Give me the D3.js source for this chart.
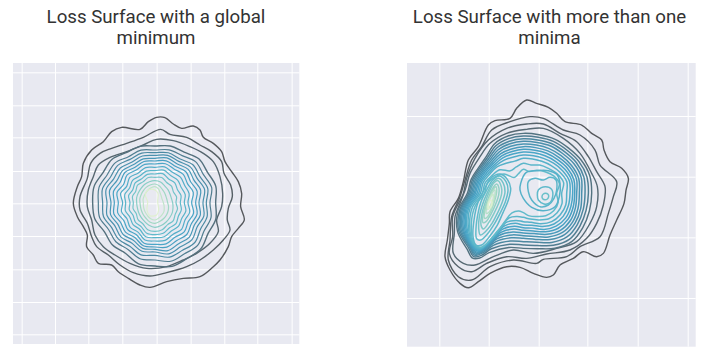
<!DOCTYPE html>
<html>
<head>
<meta charset="utf-8">
<script src="https://cdn.jsdelivr.net/npm/d3@7"></script>
<style>
  html, body { margin: 0; padding: 0; background: #fff; }
  svg { display: block; }
  .panel { filter: blur(0.4px); }
  text { font-family: Roboto, sans-serif; font-size: 18.7px; fill: #333; text-anchor: middle; }
</style>
</head>
<body>
<svg width="706" height="360"></svg>
<script>
const titleLeft = ["Loss Surface with a global", "minimum"];
const titleRight = ["Loss Surface with more than one", "minima"];

const ticksLeftX = [65, 165, 265, 367, 470, 572, 673, 772, 875];
const ticksLeftY = [67, 166, 262, 363, 460, 558, 658, 756, 853];
const ticksRightX = [118, 266, 416, 562, 713, 863];
const ticksRightY = [198, 380, 562, 744];

// left surface: outer contours as x,y
const leftOuter = [
  [[470,202],[495,203],[520,222],[545,235],[580,228],[600,240],[610,262],[640,280],[665,305],[675,335],[695,365],[715,395],[725,430],[722,470],[733,510],[715,535],[695,560],[685,590],[660,630],[640,650],[600,680],[550,685],[500,695],[450,712],[420,705],[385,685],[355,665],[335,645],[295,640],[280,615],[260,590],[262,555],[250,530],[232,500],[220,460],[232,410],[245,380],[250,340],[275,300],[310,275],[335,245],[365,232],[420,238],[445,215]],
  [[482,238],[510,253],[560,262],[600,285],[635,305],[665,335],[672,370],[692,405],[697,440],[685,475],[682,510],[690,540],[670,570],[640,600],[600,630],[560,650],[500,668],[450,678],[400,668],[360,645],[325,615],[290,590],[275,560],[262,520],[240,480],[240,440],[262,385],[272,340],[300,310],[335,295],[380,280],[430,262]],
  [[470,268],[520,272],[570,290],[610,310],[640,335],[660,380],[668,430],[665,470],[650,510],[655,545],[630,580],[590,610],[550,630],[500,650],[440,655],[390,640],[345,615],[310,590],[285,555],[275,510],[262,470],[265,420],[280,380],[295,345],[330,322],[380,305],[430,285]]
];
// left surface: inner contours as radii on the spokes below
const leftCentre = [465, 458];
const leftSpokes = [0,15,30,45,60,75,90,105,120,135,150,165,180,195,210,225,240,255,270,285,300,315,330,345];
const leftRadii = [
  [170,176,175,186,182,189,182,189,184,195,193,198,190,190,176,180,175,187,187,189,180,183,173,175],
  [158,164,163,173,168,176,165,174,170,181,177,182,172,174,162,166,161,172,170,174,166,169,159,163],
  [150,155,151,161,156,164,154,162,158,169,165,169,158,162,151,155,150,160,157,163,154,158,150,154],
  [142,147,143,151,146,154,144,152,146,157,153,159,148,151,140,145,139,149,144,152,143,147,140,145],
  [133,139,134,141,135,142,132,141,136,146,142,149,140,142,130,135,129,138,132,141,132,137,131,136],
  [125,130,125,131,124,131,122,131,126,135,131,138,133,134,121,125,119,128,122,129,121,128,122,128],
  [116,121,116,120,113,119,110,120,115,124,120,128,125,126,111,115,108,116,110,118,109,118,113,119],
  [106,111,105,108,103,106,99,108,104,113,109,117,115,116,102,105,97,104,97,107,98,107,102,109],
  [96,101,94,96,91,94,88,96,93,100,98,106,105,106,92,93,87,92,88,94,88,95,92,98],
  [86,90,82,84,78,81,76,82,81,89,87,95,96,95,83,83,76,80,75,82,77,84,82,88],
  [76,78,70,70,64,67,63,70,70,77,76,84,86,84,73,72,65,68,65,70,67,74,72,78],
  [66,64,58,55,52,51,53,56,60,63,67,71,74,70,64,60,57,55,55,57,58,60,63,65],
  [56,52,45,41,38,37,38,42,46,50,54,58,62,60,54,50,47,45,45,47,48,50,53,55],
  [48,42,32,27,24,24,25,28,32,38,42,47,52,50,45,41,38,36,35,37,38,40,43,46]
];
const leftInner = [
  [[445,420],[465,420],[474,430],[473,455],[476,480],[470,495],[450,497],[441,480],[443,455],[436,435]]
];

// right surface
const rightOuter = [
  [[380,150],[410,160],[445,172],[470,190],[495,215],[545,225],[575,250],[605,270],[612,300],[630,335],[665,355],[685,385],[678,420],[672,460],[650,510],[630,555],[610,610],[590,620],[550,605],[520,625],[480,645],[460,675],[440,682],[400,670],[360,652],[320,650],[270,670],[235,695],[205,713],[180,700],[150,660],[135,620],[142,570],[148,520],[150,485],[175,445],[190,395],[205,330],[235,290],[265,225],[285,212],[330,205],[350,175]],
  [[430,205],[490,240],[540,255],[585,300],[600,345],[650,395],[640,440],[625,490],[600,560],[540,590],[500,620],[430,628],[410,640],[340,630],[270,650],[215,690],[175,680],[145,630],[150,570],[155,500],[180,440],[195,390],[215,330],[245,290],[275,240],[330,215],[390,200]],
  [[430,222],[480,250],[530,275],[565,320],[590,365],[615,410],[610,465],[590,520],[560,565],[510,600],[440,612],[380,625],[320,620],[260,640],[215,665],[175,650],[148,610],[158,560],[158,500],[190,430],[200,385],[225,325],[265,270],[320,235],[380,222]],
  [[430,235],[490,265],[540,310],[575,370],[592,410],[590,470],[570,520],[530,575],[470,595],[400,610],[340,600],[280,620],[225,645],[190,640],[160,610],[163,550],[165,500],[180,460],[197,415],[210,370],[240,320],[270,280],[320,250],[380,238]]
];
const rightCentre = [370, 430];
const rightSpokes = [0,15,30,45,60,75,90,105,120,135,150,165,180,195,210,214,218,225,240,255,270,285,300,315,330,345];
const rightRadii = [
  [180,182,188,192,200,206,205,205,206,205,190,172,165,168,205,234,247,238,228,203,168,162,155,157,172,178],
  [172,174,180,184,192,197,195,195,196,195,180,162,155,158,192,224,241,232,224,198,164,158,151,152,165,170],
  [164,166,172,176,184,188,185,186,187,185,170,152,145,148,180,214,236,228,220,194,160,154,147,147,158,162],
  [156,158,164,168,176,180,175,178,179,175,160,143,135,138,168,205,232,226,216,190,156,150,143,142,151,154],
  [148,150,155,160,167,172,168,170,171,166,151,134,127,129,157,195,228,224,212,186,152,146,139,137,144,146],
  [140,142,147,152,160,165,160,162,163,157,142,125,119,120,146,186,224,222,208,182,148,142,135,132,137,138],
  [132,134,139,144,152,157,154,155,155,148,133,117,111,111,135,176,220,220,204,178,144,138,131,127,130,130],
  [124,126,130,136,144,150,148,148,147,139,125,108,103,102,124,166,217,218,200,174,139,134,126,122,123,122],
  [115,117,121,128,136,143,140,140,138,130,115,99,95,93,113,156,214,216,196,170,134,130,121,117,115,113],
  [105,107,111,118,127,135,130,132,128,120,105,90,85,84,100,146,211,214,191,165,129,125,116,112,104,100],
  [90,88,98,106,117,125,115,120,117,108,92,80,72,72,85,135,208,212,186,158,123,119,108,100,78,82],
  [72,68,80,92,105,112,100,108,105,95,80,70,58,55,68,125,205,210,180,150,117,112,98,82,55,60]
];
// the two peaks
const rightPeakB = [
  [[362,400],[378,368],[410,362],[445,362],[470,373],[480,400],[478,440],[465,470],[430,482],[395,472],[370,445],[360,420]],
  [[385,395],[405,385],[430,390],[450,382],[468,390],[470,420],[462,445],[445,465],[420,470],[395,450],[385,425]],
  [[415,420],[436,410],[455,418],[458,440],[450,458],[432,462],[415,450],[412,435]],
  [[436,430],[444,433],[446,440],[442,447],[435,449],[428,446],[426,439],[430,432]]
];
const rightPeakA = [
  [[300,372],[322,388],[332,415],[325,450],[308,490],[292,525],[268,560],[245,585],[228,585],[219,560],[222,510],[233,460],[252,420],[272,385]],
  [[298,378],[318,395],[324,420],[316,455],[300,490],[284,520],[262,552],[242,570],[230,566],[228,535],[234,490],[243,455],[260,420],[278,390]],
  [[296,385],[310,400],[315,425],[306,458],[292,490],[276,520],[256,545],[241,555],[236,535],[238,500],[247,465],[262,428],[280,395]],
  [[294,392],[304,410],[305,430],[296,460],[282,490],[266,518],[250,537],[243,525],[246,490],[260,445],[272,415],[282,398]],
  [[290,402],[297,415],[296,435],[288,460],[274,490],[258,515],[249,518],[251,485],[265,445],[275,420]],
  [[288,410],[290,425],[286,445],[278,470],[263,500],[254,505],[256,475],[270,440],[278,420]],
  [[284,420],[285,435],[280,455],[268,485],[259,490],[263,460],[273,435]],
  [[278,432],[280,445],[272,465],[264,478],[263,465],[270,445]],
  [[272,450],[276,458],[272,472],[265,476],[265,465],[268,455]]
];

const spokesToRing = (centre, spokes, radii) => radii.map((r, i) => {
  const a = spokes[i] * Math.PI / 180;
  return [centre[0] + r * Math.sin(a), centre[1] - r * Math.cos(a)];
});

const ringColor = d3.scaleLinear()
  .domain([0, 0.15, 0.3, 0.5, 0.72, 0.88, 1])
  .range(["#55585c", "#566a74", "#4c8ba5", "#47a3c6", "#62bccb", "#a0d8c4", "#dff0d0"]);

const drawPanel = (svg, area, ticksX, ticksY, rings) => {
  const scaleX = d3.scaleLinear().domain(area.domainX).range(area.rangeX);
  const scaleY = d3.scaleLinear().domain(area.domainY).range(area.rangeY);

  const g = svg.append("g").attr("class", "panel");

  g.append("rect")
    .attr("x", area.rangeX[0])
    .attr("y", area.rangeY[0])
    .attr("width", area.rangeX[1] - area.rangeX[0])
    .attr("height", area.rangeY[1] - area.rangeY[0])
    .style("fill", "#e8e9f1");

  const axisX = d3.axisBottom(scaleX).tickValues(ticksX).tickSize(area.rangeY[0] - area.rangeY[1]).tickFormat("");
  const axisY = d3.axisLeft(scaleY).tickValues(ticksY).tickSize(area.rangeX[0] - area.rangeX[1]).tickFormat("");

  const gridX = g.append("g").attr("transform", `translate(0, ${area.rangeY[1]})`).call(axisX);
  const gridY = g.append("g").attr("transform", `translate(${area.rangeX[0]}, 0)`).call(axisY);
  [gridX, gridY].forEach(grid => {
    grid.select(".domain").remove();
    grid.selectAll("line").style("stroke", "#fff").style("stroke-width", 1);
  });

  const line = d3.line()
    .x(d => scaleX(d[0]))
    .y(d => scaleY(d[1]))
    .curve(d3.curveCatmullRomClosed.alpha(0.5));

  g.selectAll(".ring")
    .data(rings)
    .enter()
    .append("path")
    .attr("d", d => line(d.points))
    .style("fill", "none")
    .style("stroke", d => ringColor(d.level))
    .style("stroke-width", d => d.level < 0.2 ? 1.4 : area.innerWidth);
};

const withLevels = (lists, maxLevel) => {
  let level = 0;
  const out = [];
  lists.forEach(list => list.forEach(points => {
    out.push({ points: points, level: level / maxLevel });
    level++;
  }));
  return out;
};

const svg = d3.select("svg");

const ringsLeft = withLevels([
  leftOuter,
  leftRadii.map(r => spokesToRing(leftCentre, leftSpokes, r)),
  leftInner
], 17);

const wrapRight = withLevels([
  rightOuter,
  rightRadii.map(r => spokesToRing(rightCentre, rightSpokes, r))
], 21);
const peakB = rightPeakB.map((points, i) => ({ points: points, level: 0.62 + i * 0.04 }));
const peakA = rightPeakA.map((points, i) => ({ points: points, level: 0.68 + i * 0.04 }));

drawPanel(svg, {
  domainX: [39, 898], domainY: [39, 882],
  rangeX: [13, 299.3], rangeY: [63, 344],
  innerWidth: 1.2
}, ticksLeftX, ticksLeftY, ringsLeft);

drawPanel(svg, {
  domainX: [21, 887], domainY: [39, 890],
  rangeX: [407, 695.7], rangeY: [63, 346.7],
  innerWidth: 1.5
}, ticksRightX, ticksRightY, wrapRight.concat(peakB, peakA));

const drawTitle = (lines, x) => {
  svg.selectAll(null)
    .data(lines)
    .enter()
    .append("text")
    .attr("x", x)
    .attr("y", (d, i) => 23 + i * 20.5)
    .text(d => d);
};

drawTitle(titleLeft, 156);
drawTitle(titleRight, 549.5);
</script>
</body>
</html>
